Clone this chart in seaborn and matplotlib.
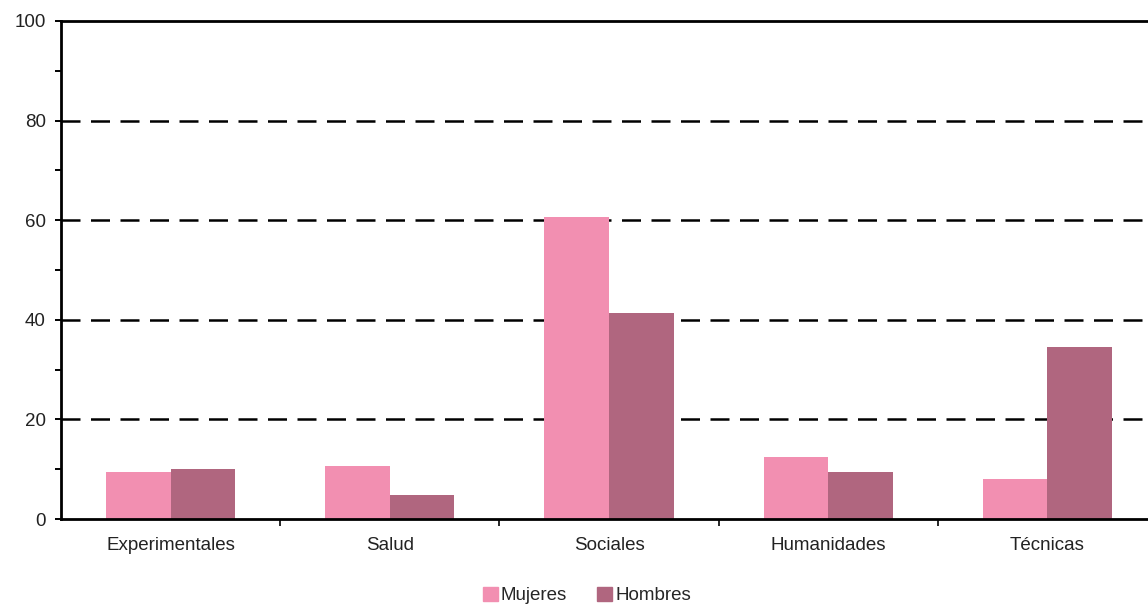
import pandas as pd
import matplotlib
matplotlib.use("Agg")
import matplotlib.pyplot as plt
import seaborn as sns
from matplotlib.ticker import MultipleLocator, FixedLocator

areas = ["Experimentales", "Salud", "Sociales", "Humanidades", "Técnicas"]
mujeres = [9.5, 10.6, 60.6, 12.4, 8.0]
hombres = [10.0, 4.9, 41.4, 9.5, 34.6]
series = ["Mujeres", "Hombres"]
colores = ["#F28FB1", "#B0667F"]

df = pd.DataFrame({
    "area": areas * 2,
    "valor": mujeres + hombres,
    "sexo": [series[0]] * len(areas) + [series[1]] * len(areas),
})

sns.set_style("white")
plt.rcParams["font.family"] = ["Liberation Sans", "DejaVu Sans"]

fig = plt.figure(figsize=(11.48, 6.06), dpi=100)
ax = fig.add_axes([61 / 1148, 1 - 519 / 606, 1096 / 1148, 498 / 606])

sns.barplot(data=df, x="area", y="valor", hue="sexo", order=areas,
            hue_order=series, palette=colores, width=0.59, gap=0,
            saturation=1, edgecolor="none", ax=ax, legend=False)

ax.set_xlim(-0.5, 4.5)
ax.set_ylim(0, 100)

for y in [20, 40, 60, 80]:
    ax.axhline(y, color="black", lw=1.8, ls=(0, (7.6, 4.2)), zorder=0)

for side in ["left", "bottom", "top", "right"]:
    ax.spines[side].set_color("black")
    ax.spines[side].set_linewidth(2.0)

ax.yaxis.set_major_locator(MultipleLocator(20))
ax.yaxis.set_minor_locator(MultipleLocator(10))
ax.tick_params(axis="y", which="both", direction="out", length=4, width=1.4,
               left=True, labelsize=13.5, pad=7, colors="black")
ax.xaxis.set_minor_locator(FixedLocator([0.5, 1.5, 2.5, 3.5]))
ax.tick_params(axis="x", which="major", direction="in", length=3, width=1.4,
               bottom=True, labelsize=13.5, pad=13, colors="black")
ax.tick_params(axis="x", which="minor", direction="out", length=5, width=1.4,
               bottom=True)
for lab in ax.get_xticklabels() + ax.get_yticklabels():
    lab.set_color("#222222")

ax.set_xlabel("")
ax.set_ylabel("")

handles = [plt.Rectangle((0, 0), 1, 1, color=c) for c in colores]
fig.legend(handles, series, loc="lower center", bbox_to_anchor=(587 / 1148, -0.025),
           ncol=2, frameon=False, fontsize=13.5, handlelength=0.8, handleheight=0.8,
           handletextpad=0.15, columnspacing=1.6)

fig.savefig("out.png", dpi=100)
